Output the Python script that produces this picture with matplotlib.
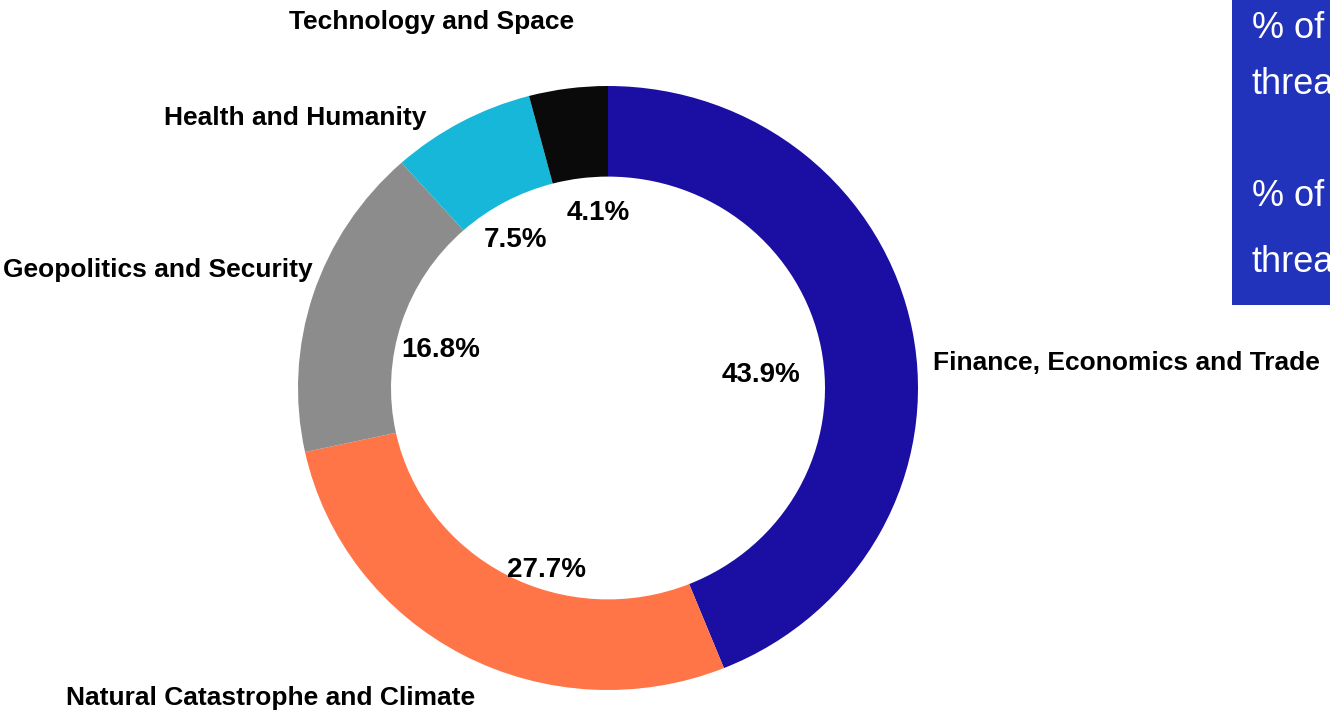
import matplotlib
matplotlib.use('Agg')
import matplotlib.pyplot as plt
from matplotlib.patches import Rectangle

plt.rcParams['font.family'] = ['Liberation Sans', 'DejaVu Sans']

# ---- data ----
categories = ['Finance, Economics and Trade', 'Natural Catastrophe and Climate',
              'Geopolitics and Security', 'Health and Humanity', 'Technology and Space']
shares = [43.9, 27.7, 16.8, 7.5, 4.1]
colors = ['#1B0FA3', '#FF7547', '#8C8C8C', '#17B7D9', '#0A0A0A']

# label placement (data coords of the pie axes)
pct_pos = [(0.494, 0.043), (-0.197, -0.603), (-0.539, 0.126), (-0.297, 0.49), (-0.032, 0.579)]
name_pos = [(1.048, 0.083, 'left'), (-1.09, -1.026, 'center'), (-0.952, 0.391, 'right'),
            (-0.587, 0.894, 'right'), (-0.568, 1.212, 'center')]

W, H = 1330, 714
fig = plt.figure(figsize=(W / 100, H / 100), dpi=100)

# donut axes, positioned in pixels
cx, cy, rx, ry = 608, 388, 310, 302
ax = fig.add_axes([(cx - rx) / W, (H - cy - ry) / H, 2 * rx / W, 2 * ry / H])
ax.pie(shares, colors=colors, startangle=90, counterclock=False, radius=1.0,
       wedgeprops=dict(width=0.30, linewidth=0))
ax.set_aspect('auto')
ax.set_xlim(-1, 1)
ax.set_ylim(-1, 1)
ax.axis('off')

for v, (x, y) in zip(shares, pct_pos):
    ax.text(x, y, f'{v:.1f}%', ha='center', va='center', fontsize=20, fontweight='bold',
            color='black')

for name, (x, y, ha) in zip(categories, name_pos):
    ax.text(x, y, name, ha=ha, va='center', fontsize=19, fontweight='bold', color='black',
            clip_on=False)

# cropped legend box on the right (cut by the image edge, as in the original)
fig.patches.append(Rectangle((1232 / W, (H - 305) / H), (W - 1232) / W, 305 / H,
                             transform=fig.transFigure, facecolor='#2233BB',
                             edgecolor='none', zorder=0))
box_lines = [('% of total', 28), ('threats', 85), ('% of total', 197), ('threats', 262)]
for txt, py in box_lines:
    fig.text(1252 / W, (H - py) / H, txt, ha='left', va='center', fontsize=26,
             color='white')

fig.savefig('out.png', dpi=100)
